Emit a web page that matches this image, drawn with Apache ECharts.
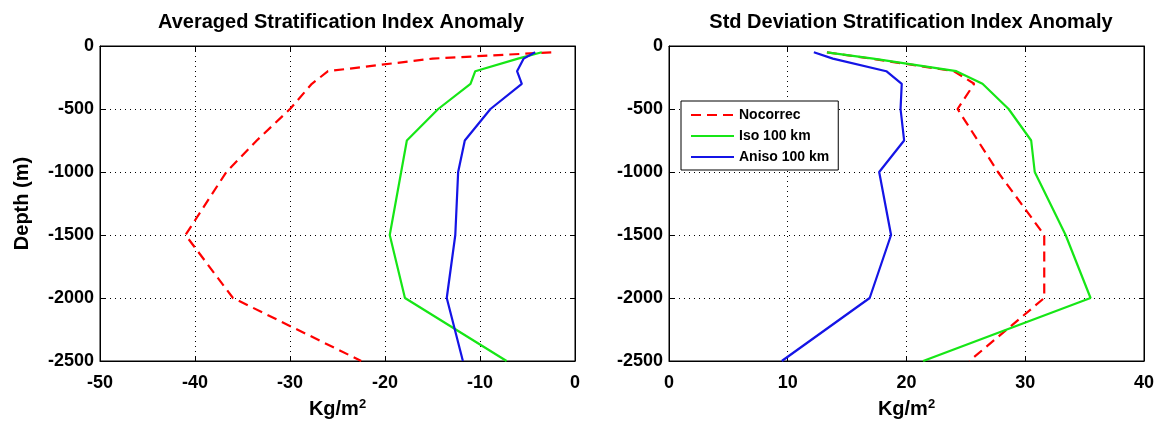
<!DOCTYPE html>
<html>
<head>
<meta charset="utf-8">
<script src="https://cdn.jsdelivr.net/npm/echarts@6/dist/echarts.min.js"></script>
<style>
  html, body { margin: 0; padding: 0; background: #fff; }
  #chart { width: 1157px; height: 427px; }
</style>
</head>
<body>
<div id="chart"></div>
<script>
// depth levels (m), shared by all profiles
const depths = [-50, -100, -200, -300, -500, -750, -1000, -1500, -2000, -2500];

// averaged anomaly (left panel)
const avgNocorrec = [-2.5, -15, -26, -27.7, -30, -33.5, -36.7, -41, -36, -22.5];
const avgIso = [-3.5, -6, -10.5, -11, -14.4, -17.7, -18.3, -19.5, -17.9, -7.2];
const avgAniso = [-4.2, -5.4, -6.1, -5.6, -8.9, -11.6, -12.3, -12.6, -13.5, -11.8];

// std deviation anomaly (right panel)
const stdNocorrec = [13.3, 17, 24, 25.7, 24.3, 26, 27.7, 31.6, 31.6, 25.3];
const stdIso = [13.3, 17.2, 24.2, 26.4, 28.6, 30.5, 30.8, 33.4, 35.5, 21.4];
const stdAniso = [12.2, 13.8, 18.3, 19.6, 19.5, 19.8, 17.7, 18.7, 16.9, 9.5];

const seriesNames = ['Nocorrec', 'Iso 100 km', 'Aniso 100 km'];
const seriesColors = ['#ff0000', '#16e616', '#1414e6'];

const FONT = 'Liberation Sans, Arial, sans-serif';

function pairs(values) {
    return values.map((v, i) => [v, depths[i]]);
}

function profile(name, values, idx, color, dashed) {
    return {
        type: 'line',
        name: name,
        xAxisIndex: idx,
        yAxisIndex: idx,
        data: pairs(values),
        showSymbol: false,
        symbol: 'none',
        silent: true,
        animation: false,
        lineStyle: { color: color, width: 2.2, type: dashed ? [10, 6] : 'solid' },
        itemStyle: { color: color, opacity: 0 }
    };
}

const labelStyle = { color: '#000', fontFamily: FONT, fontWeight: 'bold', fontSize: 18 };

function xAxis(gridIndex, min, max) {
    return {
        type: 'value', gridIndex: gridIndex, min: min, max: max, interval: 10,
        position: 'bottom',
        name: '{a|Kg/m}{s|2}',
        nameLocation: 'middle', nameGap: 37,
        nameTextStyle: {
            rich: {
                a: { fontFamily: FONT, fontWeight: 'bold', fontSize: 20, color: '#000' },
                s: { fontFamily: FONT, fontWeight: 'bold', fontSize: 13, color: '#000', verticalAlign: 'top', padding: [0, 0, 10, 0] }
            }
        },
        axisLine: { show: true, onZero: false, lineStyle: { color: '#000', width: 1 } },
        axisTick: { show: true, inside: true, length: 5, lineStyle: { color: '#000' } },
        axisLabel: Object.assign({ margin: 13 }, labelStyle),
        splitLine: { show: true, lineStyle: { color: '#000', type: [1, 4], width: 1 } }
    };
}

function xAxisTop(gridIndex, min, max) {
    return {
        type: 'value', gridIndex: gridIndex, min: min, max: max, interval: 10,
        position: 'top',
        axisLine: { show: true, onZero: false, lineStyle: { color: '#000' } },
        axisTick: { show: true, inside: true, length: 5, lineStyle: { color: '#000' } },
        axisLabel: { show: false },
        splitLine: { show: false }
    };
}

function yAxis(gridIndex, withName) {
    return {
        type: 'value', gridIndex: gridIndex, min: -2500, max: 0, interval: 500,
        position: 'left',
        name: withName ? 'Depth (m)' : '',
        nameLocation: 'middle', nameGap: 68, nameRotate: 90,
        nameTextStyle: { fontFamily: FONT, fontWeight: 'bold', fontSize: 20, color: '#000' },
        axisLine: { show: true, onZero: false, lineStyle: { color: '#000' } },
        axisTick: { show: true, inside: true, length: 5, lineStyle: { color: '#000' } },
        axisLabel: Object.assign({ margin: 6, formatter: (v) => String(v) }, labelStyle),
        splitLine: { show: true, lineStyle: { color: '#000', type: [1, 4], width: 1 } }
    };
}

function yAxisRight(gridIndex) {
    return {
        type: 'value', gridIndex: gridIndex, min: -2500, max: 0, interval: 500,
        position: 'right',
        axisLine: { show: true, onZero: false, lineStyle: { color: '#000' } },
        axisTick: { show: true, inside: true, length: 5, lineStyle: { color: '#000' } },
        axisLabel: { show: false },
        splitLine: { show: false }
    };
}

const chart = echarts.init(document.getElementById('chart'), null, { renderer: 'canvas' });

const titleStyle = { fontFamily: FONT, fontWeight: 'bold', fontSize: 20, color: '#000' };

chart.setOption({
    backgroundColor: '#fff',
    animation: false,
    title: [
        { text: 'Averaged Stratification Index Anomaly', left: 336, top: 7, textAlign: 'center', textStyle: titleStyle },
        { text: 'Std Deviation Stratification Index Anomaly', left: 906, top: 7, textAlign: 'center', textStyle: titleStyle }
    ],
    grid: [
        { left: 100, top: 46, width: 475, height: 315, show: true, borderColor: '#000', borderWidth: 1 },
        { left: 669, top: 46, width: 476, height: 315, show: true, borderColor: '#000', borderWidth: 1 }
    ],
    legend: {
        data: seriesNames,
        orient: 'vertical',
        left: 681, top: 101,
        itemWidth: 43, itemHeight: 16, itemGap: 7,
        padding: [7, 9, 6, 9],
        backgroundColor: '#fff',
        borderColor: '#000', borderWidth: 1, borderRadius: 0,
        itemStyle: { opacity: 0 },
        textStyle: { fontFamily: FONT, fontWeight: 'bold', fontSize: 14, color: '#000' },
        selectedMode: false
    },
    xAxis: [xAxis(0, -50, 0), xAxis(1, 0, 40), xAxisTop(0, -50, 0), xAxisTop(1, 0, 40)],
    yAxis: [yAxis(0, true), yAxis(1, false), yAxisRight(0), yAxisRight(1)],
    series: [
        profile(seriesNames[0], avgNocorrec, 0, seriesColors[0], true),
        profile(seriesNames[1], avgIso, 0, seriesColors[1], false),
        profile(seriesNames[2], avgAniso, 0, seriesColors[2], false),
        profile(seriesNames[0], stdNocorrec, 1, seriesColors[0], true),
        profile(seriesNames[1], stdIso, 1, seriesColors[1], false),
        profile(seriesNames[2], stdAniso, 1, seriesColors[2], false)
    ]
});
</script>
</body>
</html>
